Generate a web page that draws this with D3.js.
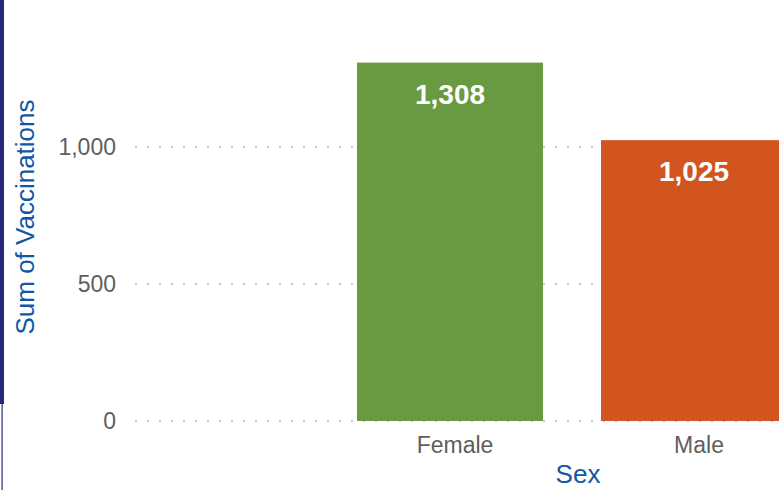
<!DOCTYPE html>
<html>
<head>
<meta charset="utf-8">
<script src="https://cdn.jsdelivr.net/npm/d3@7"></script>
<style>
  body { margin: 0; background: #fff; }
  svg { display: block; font-family: "Liberation Sans", Arial, sans-serif; }
</style>
</head>
<body>
<div class="canvas"></div>
<script>
// data
const categories = ["Female", "Male"];
const values = [1308, 1025];
const barColors = ["#689b41", "#d2541f"];
const yTicks = [0, 500, 1000];

const width = 779, height = 490;

const svg = d3.select(".canvas")
    .append("svg")
    .attr("width", width)
    .attr("height", height);

// left frame edge
svg.append("rect")
    .attr("x", 0).attr("y", 0)
    .attr("width", 4).attr("height", 404)
    .attr("fill", "#28287a");
svg.append("rect")
    .attr("x", 1.5).attr("y", 404)
    .attr("width", 1.2).attr("height", 86)
    .attr("fill", "#28287a");

const y = d3.scaleLinear()
    .domain([0, 1000])
    .range([421, 147]);

const x = d3.scaleBand()
    .domain(categories)
    .range([328, 816])
    .paddingInner(58 / 244)
    .paddingOuter(29 / 244);

// dotted gridlines
svg.append("g")
    .selectAll("line")
    .data(yTicks)
    .join("line")
    .attr("x1", 135)
    .attr("x2", width)
    .attr("y1", d => y(d))
    .attr("y2", d => y(d))
    .attr("stroke", "#c8c8c8")
    .attr("stroke-width", 2)
    .attr("stroke-dasharray", "2 10");

// y axis labels
const yAxis = d3.axisLeft(y)
    .tickValues(yTicks)
    .tickFormat(d3.format(","))
    .tickSize(0)
    .tickPadding(0);

svg.append("g")
    .attr("transform", "translate(116,0)")
    .call(yAxis)
    .call(g => g.select(".domain").remove())
    .selectAll("text")
    .attr("font-size", "23px")
    .attr("font-family", "Liberation Sans, Arial, sans-serif")
    .attr("fill", "#605e5c");

// bars
svg.append("g")
    .selectAll("rect")
    .data(values)
    .join("rect")
    .attr("x", (d, i) => x(categories[i]))
    .attr("y", d => y(d))
    .attr("width", x.bandwidth())
    .attr("height", d => y(0) - y(d))
    .attr("fill", (d, i) => barColors[i]);

// value labels
svg.append("g")
    .selectAll("text")
    .data(values)
    .join("text")
    .attr("x", (d, i) => x(categories[i]) + x.bandwidth() / 2)
    .attr("y", d => y(d) + 41)
    .attr("text-anchor", "middle")
    .attr("font-size", "28px")
    .attr("font-weight", "bold")
    .attr("fill", "#ffffff")
    .text(d => d3.format(",")(d));

// x axis labels
const xAxis = d3.axisBottom(x).tickSize(0).tickPadding(0);
svg.append("g")
    .attr("transform", "translate(5,0)")
    .call(xAxis)
    .call(g => g.select(".domain").remove())
    .selectAll("text")
    .attr("y", 453)
    .attr("dy", 0)
    .attr("font-size", "23px")
    .attr("font-family", "Liberation Sans, Arial, sans-serif")
    .attr("fill", "#605e5c");

// axis titles
svg.append("text")
    .attr("transform", "translate(34,217) rotate(-90)")
    .attr("text-anchor", "middle")
    .attr("font-size", "26px")
    .attr("fill", "#1157a4")
    .text("Sum of Vaccinations");

svg.append("text")
    .attr("x", 578)
    .attr("y", 483)
    .attr("text-anchor", "middle")
    .attr("font-size", "26px")
    .attr("fill", "#1157a4")
    .text("Sex");
</script>
</body>
</html>
